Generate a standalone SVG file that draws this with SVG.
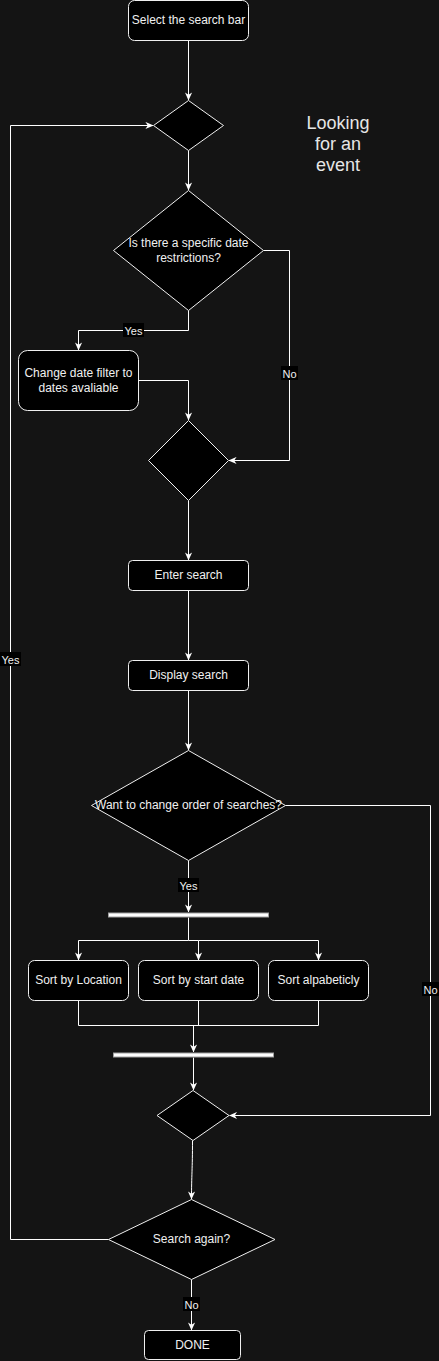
<svg xmlns="http://www.w3.org/2000/svg" width="439" height="1361" viewBox="0 0 439 1361">
<defs>
<marker id="arr" viewBox="0 0 10 10" refX="9.5" refY="5" markerWidth="8" markerHeight="8" markerUnits="userSpaceOnUse" orient="auto">
<path d="M0,0.5 L10,5 L0,9.5 L3,5 z" fill="#ffffff"/>
</marker>
<style>
.n{fill:#000000;stroke:#f0f0f0;stroke-width:1}
.bar{fill:#ffffff;stroke:#a0a0a0;stroke-width:1}
.t{font-family:"Liberation Sans",Arial,sans-serif;font-size:12px;fill:#f0f0f0;text-anchor:middle;dominant-baseline:central}
.e{fill:none;stroke:#ffffff;stroke-width:1}
.ea{fill:none;stroke:#ffffff;stroke-width:1;marker-end:url(#arr)}
.lb{fill:#000000}
.lt{font-family:"Liberation Sans",Arial,sans-serif;font-size:11px;fill:#f0f0f0;text-anchor:middle;dominant-baseline:central}
.big{font-family:"Liberation Sans",Arial,sans-serif;font-size:18px;fill:#e6e6e6;text-anchor:middle}
</style>
</defs>
<rect x="0" y="0" width="439" height="1361" fill="#141414"/>

<g id="connectors">
<path class="ea" d="M188.5,40.5 L188.5,100"/>
<path class="ea" d="M188.5,150.5 L188.5,190"/>
<path class="ea" d="M188.5,310.5 L188.5,330.5 L78.5,330.5 L78.5,350"/>
<path class="ea" d="M138.5,380.5 L188.5,380.5 L188.5,420"/>
<path class="ea" d="M263.5,250.5 L289.5,250.5 L289.5,460.5 L229,460.5"/>
<path class="ea" d="M188.5,500.5 L188.5,560"/>
<path class="ea" d="M188.5,590.5 L188.5,660"/>
<path class="ea" d="M188.5,690.5 L188.5,750"/>
<path class="ea" d="M188.5,860.5 L188.5,912"/>
<path class="e" d="M188.5,917.5 L188.5,940.5"/>
<path class="ea" d="M188.5,940.5 L78.5,940.5 L78.5,960"/>
<path class="ea" d="M188.5,940.5 L198.5,940.5 L198.5,960"/>
<path class="ea" d="M198.5,940.5 L318.5,940.5 L318.5,960"/>
<path class="e" d="M78.5,1000.5 L78.5,1025.5 L318.5,1025.5 L318.5,1000.5"/>
<path class="e" d="M198.5,1000.5 L198.5,1025.5"/>
<path class="ea" d="M193.5,1025.5 L193.5,1052"/>
<path class="ea" d="M193.5,1057.5 L193.5,1090"/>
<path class="ea" d="M285.5,805.5 L430.5,805.5 L430.5,1115.5 L229.5,1115.5"/>
<path class="ea" d="M192.5,1140.5 C192.5,1170 191.5,1175 191.5,1199"/>
<path class="ea" d="M108.5,1239.5 L10.5,1239.5 L10.5,125.5 L153,125.5"/>
<path class="ea" d="M191.5,1279.5 L191.5,1330"/>
<rect class="lb" x="123" y="323" width="21" height="14"/>
<text class="lt" x="133.5" y="330.5">Yes</text>
<rect class="lb" x="281" y="366" width="17" height="14"/>
<text class="lt" x="289.5" y="373.5">No</text>
<rect class="lb" x="178" y="878" width="21" height="14"/>
<text class="lt" x="188.5" y="885.5">Yes</text>
<rect class="lb" x="422" y="982" width="17" height="14"/>
<text class="lt" x="430.5" y="989.5">No</text>
<rect class="lb" x="0" y="652" width="21" height="14"/>
<text class="lt" x="10.5" y="659.5">Yes</text>
<rect class="lb" x="183" y="1297" width="17" height="14"/>
<text class="lt" x="191.5" y="1304.5">No</text>
</g>

<g id="n-select"><rect class="n" x="128.5" y="0.5" width="120" height="40" rx="6"/><text class="t" x="188.5" y="20">Select the search bar</text></g>
<g id="n-merge1"><path class="n" d="M188.5,100.5 L223.5,125.5 L188.5,150.5 L153.5,125.5 Z"/></g>
<g id="n-title"><text class="big" x="338" y="129">Looking</text><text class="big" x="338" y="150">for an</text><text class="big" x="338" y="171">event</text></g>
<g id="n-datedec"><path class="n" d="M188.5,190.5 L263.5,250.5 L188.5,310.5 L113.5,250.5 Z"/><text class="t" x="188.5" y="243">Is there a specific date</text><text class="t" x="188.5" y="258">restrictions?</text></g>
<g id="n-change"><rect class="n" x="18.5" y="350.5" width="120" height="60" rx="9"/><text class="t" x="78.5" y="373">Change date filter to</text><text class="t" x="78.5" y="388">dates avaliable</text></g>
<g id="n-merge2"><path class="n" d="M188.5,420.5 L228.5,460.5 L188.5,500.5 L148.5,460.5 Z"/></g>
<g id="n-enter"><rect class="n" x="128.5" y="560.5" width="120" height="30" rx="4"/><text class="t" x="188.5" y="575">Enter search</text></g>
<g id="n-display"><rect class="n" x="128.5" y="660.5" width="120" height="30" rx="4"/><text class="t" x="188.5" y="675">Display search</text></g>
<g id="n-orderdec"><path class="n" d="M188.5,750.5 L285.5,805.5 L188.5,860.5 L91.5,805.5 Z"/><text class="t" x="188.5" y="805">Want to change order of searches?</text></g>
<g id="n-fork"><rect class="bar" x="108.5" y="913" width="160" height="4"/></g>
<g id="n-sortloc"><rect class="n" x="28.5" y="960.5" width="100" height="40" rx="6"/><text class="t" x="78.5" y="980">Sort by Location</text></g>
<g id="n-sortdate"><rect class="n" x="138.5" y="960.5" width="120" height="40" rx="6"/><text class="t" x="198.5" y="980">Sort by start date</text></g>
<g id="n-sortalpha"><rect class="n" x="268.5" y="960.5" width="100" height="40" rx="6"/><text class="t" x="318.5" y="980">Sort alpabeticly</text></g>
<g id="n-join"><rect class="bar" x="113.5" y="1053" width="160" height="4"/></g>
<g id="n-merge3"><path class="n" d="M193,1090.5 L229,1115.5 L193,1140.5 L157,1115.5 Z"/></g>
<g id="n-again"><path class="n" d="M191.5,1199.5 L275,1239.5 L191.5,1279.5 L108.5,1239.5 Z"/><text class="t" x="191.5" y="1238.5">Search again?</text></g>
<g id="n-done"><rect class="n" x="144.5" y="1330.5" width="96" height="29" rx="4"/><text class="t" x="192.5" y="1344.5">DONE</text></g>
</svg>
